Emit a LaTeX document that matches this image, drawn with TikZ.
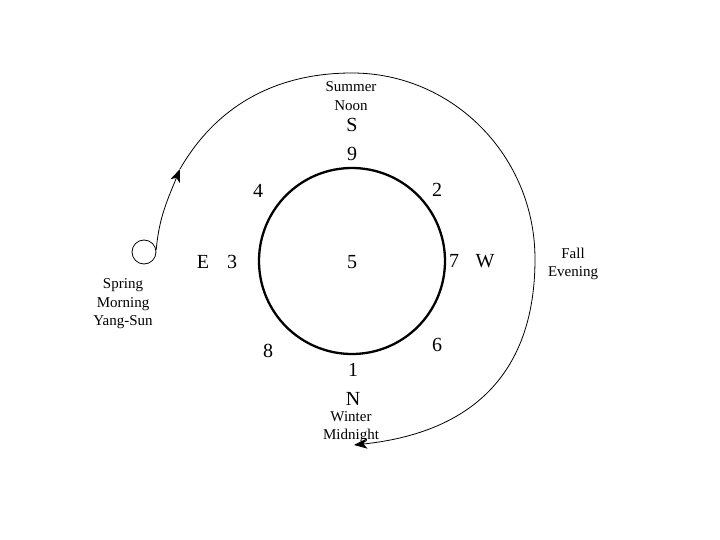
\documentclass[tikz,border=0pt]{standalone}
\usepackage{fontspec}
\setmainfont{Liberation Serif}
\usetikzlibrary{arrows.meta}
\tikzset{
  small/.style={font=\fontsize{15}{18.5}\selectfont, align=center, inner sep=0pt},
  big/.style={font=\fontsize{20}{24}\selectfont, inner sep=0pt},
  sunpath/.style={line width=0.8pt, -{Stealth[length=13pt,width=10pt,inset=3.5pt]}}
}
\begin{document}
\begin{tikzpicture}[x=1pt, y=-1pt]
			%%%%% START %%%%%
			\useasboundingbox (0, 0) rectangle (720, 540);
			
			\draw[line width=2.3pt] (352, 261) circle (93);
			
			\node[big] (s) at (352, 125) {S};
			\node[big] (nine) at (352, 154) {9};
			\node[big] (four) at (258, 191) {4};
			\node[big] (two) at (437, 190) {2};
			\node[big] (e) at (203, 262) {E};
			\node[big] (three) at (232, 262) {3};
			\node[big] (five) at (352, 262) {5};
			\node[big] (seven) at (454, 261) {7};
			\node[big] (w) at (485, 261) {W};
			\node[big] (eight) at (268, 351) {8};
			\node[big] (six) at (437, 345) {6};
			\node[big] (one) at (353, 370) {1};
			\node[big] (n) at (353, 399) {N};
			
			\node[small] (summer) at (351, 96) {Summer\\Noon};
			\node[small] (fall) at (573, 264) {Fall\\Evening};
			\node[small] (winter) at (351, 427) {Winter\\Midnight};
			\node[small] (spring) at (123, 304) {Spring\\Morning\\Yang-Sun};
			
			\node[draw, circle, line width=0.8pt, minimum size=24pt, inner sep=0pt] (sun) at (144, 252) {};
			
			\coordinate (rise) at (180, 169);
			\coordinate (noon) at (352, 73);
			\coordinate (night) at (354, 445);
			
			\draw[sunpath] (sun.10) to[out=85, in=-112] (rise);
			\draw[sunpath] (rise) to[out=60, in=180, looseness=0.97] (noon)
				arc[start angle=-90, end angle=0, x radius=183, y radius=186] coordinate (dusk)
				to[out=-90, in=6, looseness=1.15] (night);
			%%%%% END %%%%%
\end{tikzpicture}
\end{document}
